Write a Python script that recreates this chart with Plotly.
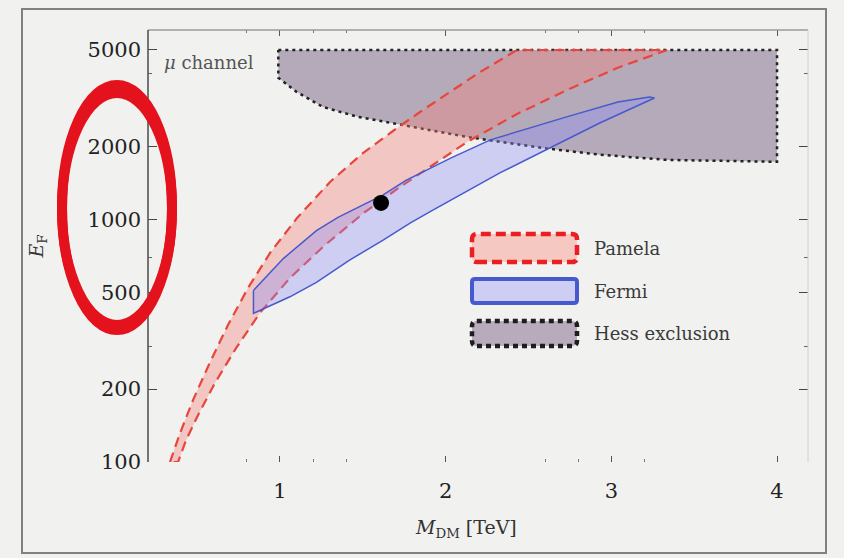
import plotly.graph_objects as go

# ---- data (M_DM in TeV, E in GeV) ----
pamela_left_m = [0.336, 0.396, 0.475, 0.578, 0.686, 0.807, 0.940, 1.103, 1.302, 1.501,
                 1.682, 1.845, 2.026, 2.208, 2.431]
pamela_left_e = [100, 131, 180, 258, 367, 522, 728, 1014, 1428, 1880,
                 2317, 2775, 3357, 4056, 5000]
pamela_right_m = [0.385, 0.433, 0.505, 0.608, 0.735, 0.879, 1.060, 1.272, 1.513, 1.724,
                  2.129, 2.431, 2.733, 3.035, 3.336]
pamela_right_e = [100, 123, 156, 212, 295, 412, 574, 785, 1074, 1361,
                  2087, 2724, 3420, 4214, 5000]

fermi_m = [0.84, 1.02, 1.22, 1.35, 1.62, 1.76, 2.03, 2.27, 2.73, 3.04, 3.23, 3.26,
           2.93, 2.63, 2.33, 1.92, 1.79, 1.62, 1.42, 1.22, 1.06, 0.84, 0.84]
fermi_e = [510, 690, 900, 1020, 1260, 1450, 1790, 2130, 2650, 3050, 3200, 3170,
           2500, 1970, 1560, 1090, 970, 820, 680, 550, 480, 410, 510]

hess_m = [0.99, 4.0, 4.0, 3.34, 2.93, 2.59, 2.13, 1.74, 1.47, 1.26, 1.10, 0.99, 0.99]
hess_e = [5000, 5000, 1730, 1760, 1850, 1970, 2190, 2450, 2650, 2910, 3360, 3840, 5000]

best_m = [1.61]
best_e = [1170]

x_tick_vals = [1, 2, 3, 4]
x_minor_vals = [0.8, 1.2, 1.4, 2.6, 2.8, 3.2]
y_tick_vals = [100, 200, 500, 1000, 2000, 5000]
y_tick_text = ["100", "200", "500", "1000", "2000", "5000"]
y_minor_vals = [300, 700, 4000]

legend_names = ["Pamela", "Fermi", "Hess exclusion"]

# ---- styles ----
BG = "#f1f1ef"
SERIF = "DejaVu Serif"
RED = "rgb(232,70,60)"
BLUE = "rgb(70,90,205)"

pam_x = pamela_left_m + pamela_right_m[::-1] + pamela_left_m[:1]
pam_y = pamela_left_e + pamela_right_e[::-1] + pamela_left_e[:1]

fig = go.Figure()
fig.add_trace(go.Scatter(
    x=hess_m, y=hess_e, mode="lines", fill="toself",
    fillcolor="rgba(120,100,132,0.5)",
    line=dict(color="#222", width=2.5, dash="3px,4px"),
    name=legend_names[2], showlegend=False, hoverinfo="skip"))
fig.add_trace(go.Scatter(
    x=pam_x, y=pam_y, mode="lines", fill="toself",
    fillcolor="rgba(245,130,120,0.38)",
    line=dict(color=RED, width=2.2, dash="10px,6px"),
    name=legend_names[0], showlegend=False, hoverinfo="skip"))
fig.add_trace(go.Scatter(
    x=fermi_m, y=fermi_e, mode="lines", fill="toself",
    fillcolor="rgba(140,140,250,0.35)",
    line=dict(color=BLUE, width=1.5),
    name=legend_names[1], showlegend=False, hoverinfo="skip"))
fig.add_trace(go.Scatter(
    x=best_m, y=best_e, mode="markers",
    marker=dict(color="black", size=16),
    showlegend=False, hoverinfo="skip"))

# plot area in pixels: x 148..808, y 30..462
L, R, T, B = 148, 808, 30, 462
W, H = 844, 558


def px(x):
    return (x - L) / (R - L)


def py(y):
    return (B - y) / (B - T)


def rounded_rect(x0, y0, x1, y1, r):
    """Rounded rectangle path in paper coordinates from pixel corners."""
    rx = r / (R - L)
    ry = r / (B - T)
    X0, X1 = px(x0), px(x1)
    Y0, Y1 = py(y1), py(y0)  # bottom, top
    return (f"M {X0+rx},{Y0} L {X1-rx},{Y0} Q {X1},{Y0} {X1},{Y0+ry} "
            f"L {X1},{Y1-ry} Q {X1},{Y1} {X1-rx},{Y1} L {X0+rx},{Y1} "
            f"Q {X0},{Y1} {X0},{Y1-ry} L {X0},{Y0+ry} Q {X0},{Y0} {X0+rx},{Y0} Z")


shapes = [
    # outer frame of the panel
    dict(type="rect", xref="paper", yref="paper",
         x0=px(22), x1=px(826), y0=py(553), y1=py(9),
         line=dict(color="#808080", width=2), layer="below"),
    # frame lines of the plot box
    dict(type="line", xref="paper", yref="paper", x0=0, x1=1, y0=1, y1=1,
         line=dict(color="#9a9a9a", width=1.5)),
    dict(type="line", xref="paper", yref="paper", x0=1, x1=1, y0=0, y1=1,
         line=dict(color="#d0d0d0", width=1)),
    dict(type="line", xref="paper", yref="paper", x0=0, x1=0, y0=0, y1=1,
         line=dict(color="#555", width=1.6)),
    # legend swatches
    dict(type="path", xref="paper", yref="paper",
         path=rounded_rect(472, 234, 577, 262, 5),
         fillcolor="rgba(246,200,194,1)",
         line=dict(color="rgb(235,30,35)", width=4.5, dash="10px,5px")),
    dict(type="path", xref="paper", yref="paper",
         path=rounded_rect(472, 279, 577, 303, 3),
         fillcolor="rgba(206,206,245,1)",
         line=dict(color=BLUE, width=4)),
    dict(type="path", xref="paper", yref="paper",
         path=rounded_rect(472, 321, 577, 346, 5),
         fillcolor="rgba(183,171,188,1)",
         line=dict(color="#1e1e1e", width=4.5, dash="5px,4px")),
    # red highlight ring around the E axis labels
    dict(type="circle", xref="paper", yref="paper",
         x0=px(62), x1=px(172), y0=py(330), y1=py(85),
         line=dict(color="rgb(228,18,28)", width=10), layer="above"),
    dict(type="circle", xref="paper", yref="paper",
         x0=px(62), x1=px(172), y0=py(325), y1=py(93),
         line=dict(color="rgb(228,18,28)", width=10), layer="above"),
]

annotations = [
    dict(text="<i>μ</i> channel", xref="paper", yref="paper",
         x=px(162), y=py(63), xanchor="left", yanchor="middle",
         showarrow=False, font=dict(family=SERIF, size=18, color="#555")),
    # x axis title
    dict(text="<i>M</i><sub>DM</sub> [TeV]", xref="paper", yref="paper",
         x=px(466), y=py(528), xanchor="center", yanchor="middle",
         showarrow=False, font=dict(family=SERIF, size=19, color="#333")),
]
for name, yc in zip(legend_names, [248, 291, 333]):
    annotations.append(dict(
        text=name, xref="paper", yref="paper", x=px(592), y=py(yc),
        xanchor="left", yanchor="middle", showarrow=False,
        font=dict(family=SERIF, size=18, color="#3a3a3a")))

fig.update_layout(
    width=W, height=H,
    margin=dict(l=L, r=W - R, t=T, b=H - B, autoexpand=False),
    paper_bgcolor=BG, plot_bgcolor=BG,
    shapes=shapes, annotations=annotations,
    showlegend=False,
    xaxis=dict(
        range=[0.2034, 4.187], showgrid=False, zeroline=False, showline=False,
        tickmode="array", tickvals=x_tick_vals,
        ticks="inside", ticklen=6, tickwidth=1.2, tickcolor="#555",
        mirror="ticks", ticklabelstandoff=14,
        minor=dict(tickmode="array", tickvals=x_minor_vals, ticks="inside",
                   ticklen=3, tickcolor="#777"),
        tickfont=dict(family=SERIF, size=21, color="#222"),
    ),
    yaxis=dict(
        type="log", range=[2, 3.7814], showgrid=False, zeroline=False,
        showline=False,
        tickmode="array", tickvals=y_tick_vals, ticktext=y_tick_text,
        ticks="inside", ticklen=9, tickwidth=1.4, tickcolor="#444",
        mirror="ticks", ticklabelstandoff=6,
        minor=dict(tickmode="array", tickvals=y_minor_vals, ticks="inside",
                   ticklen=4, tickcolor="#666"),
        tickfont=dict(family=SERIF, size=21, color="#222"),
        title=dict(text="<i>E</i><sub>F</sub>", standoff=38,
                   font=dict(family=SERIF, size=19, color="#333")),
    ),
)

fig.write_html("out.html")
